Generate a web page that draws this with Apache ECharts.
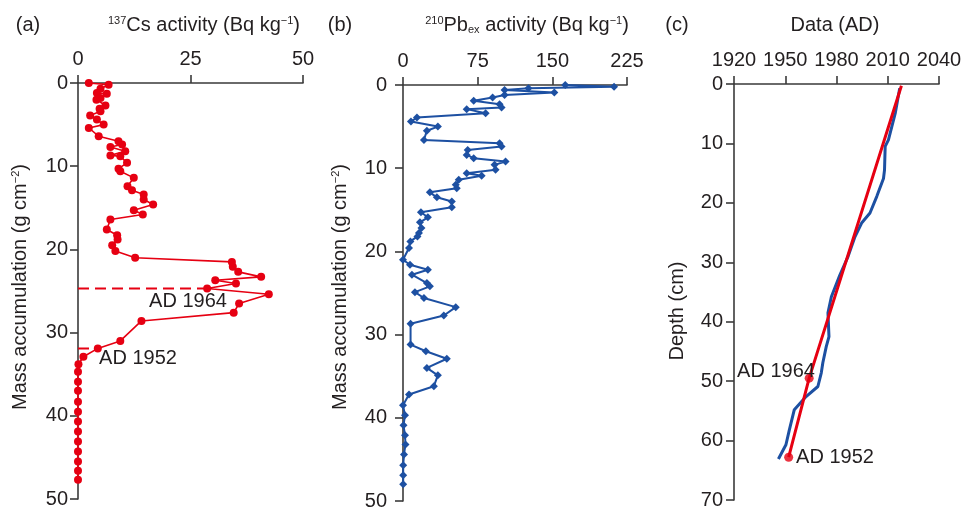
<!DOCTYPE html>
<html>
<head>
<meta charset="utf-8">
<script src="https://cdn.jsdelivr.net/npm/echarts@6/dist/echarts.min.js"></script>
<style>
html, body { margin: 0; padding: 0; background: #fff; }
#main { width: 961px; height: 508px; }
</style>
</head>
<body>
<div id="main"></div>
<script>
// (a) 137Cs profile: mass accumulation (g cm-2) vs activity (Bq kg-1)
const csMass = [0, 0.2, 0.7, 1.2, 1.3, 1.8, 2.0, 2.7, 3.1, 3.4, 3.9, 4.4, 5.0, 5.4, 6.4, 7.0, 7.4, 7.7,
  8.2, 8.7, 8.8, 9.6, 10.3, 10.6, 11.4, 12.4, 12.9, 13.4, 14.0, 14.6, 15.3, 15.8, 16.4, 17.6, 18.3,
  18.8, 19.5, 20.2, 21.0, 21.5, 22.1, 22.7, 23.3, 23.7, 24.1, 24.7, 25.4, 26.5, 27.6, 28.6, 31.0,
  31.9, 32.9, 33.8, 34.7, 35.9, 37.0, 38.3, 39.5, 40.7, 41.9, 43.1, 44.3, 45.5, 46.6, 47.7];
const csActivity = [2.4, 6.8, 5.0, 4.2, 6.4, 5.0, 4.1, 6.1, 4.8, 5.0, 2.7, 4.2, 5.7, 2.4, 4.6, 9.0, 9.8, 7.2,
  10.5, 7.2, 9.4, 10.9, 9.0, 9.4, 12.4, 11.0, 12.0, 14.6, 14.6, 16.7, 12.4, 14.4, 7.2, 6.4, 8.7,
  8.8, 7.6, 8.3, 12.7, 34.2, 34.4, 35.6, 40.7, 30.5, 35.1, 28.7, 42.4, 35.8, 34.6, 14.1, 9.4,
  4.4, 1.2, 0.1, 0, 0, 0, 0, 0, 0, 0, 0, 0, 0, 0, 0];

// dated horizons in (a)
const horizonNames = ['AD 1964', 'AD 1952'];
const horizonMass = [24.7, 31.9];
const horizonCs = [28.7, 4.4];

// (b) 210Pbex profile
const pbMass = [0.0, 0.2, 0.4, 0.6, 0.9, 1.2, 1.5, 1.9, 2.3, 2.7, 2.9, 3.4, 3.9, 4.4, 5.0, 5.5, 6.6, 7.0,
  7.4, 7.8, 8.4, 8.8, 9.2, 9.6, 10.2, 10.6, 10.9, 11.4, 12.0, 12.4, 12.9, 13.5, 14.0, 14.7, 15.3,
  15.9, 16.5, 17.2, 17.8, 18.2, 18.8, 19.6, 21.0, 21.6, 22.2, 22.8, 23.8, 24.2, 24.9, 25.6, 26.7,
  27.7, 28.7, 31.2, 32.0, 32.9, 34.0, 34.9, 36.2, 37.2, 38.5, 39.7, 40.9, 42.1, 43.2, 44.4, 45.7,
  46.9, 48.0];
const pbActivity = [163, 212, 126, 102, 152, 102, 90, 71, 97, 99, 64, 83, 14, 8, 35, 24, 21, 97,
  99, 65, 64, 71, 103, 92, 93, 64, 79, 56, 53, 54, 27, 34, 49, 49, 18,
  25, 17, 18.5, 16, 14.5, 7.4, 6, 0, 7, 25, 9, 24, 27, 12, 21, 53,
  41, 7.6, 7.6, 23, 44, 24, 35, 31, 6, 0, 2, 0.5, 2, 2.5, 1, 0.2,
  0.2, 0.2];

// (c) age-depth: 210Pb model (blue) and 137Cs line (red)
const modelYear = [2017, 2014.4, 2010.4, 2008.5, 2008.1, 2007.5, 2003.6, 1999.6, 1994.7, 1990.8, 1986.8,
  1981.9, 1977.0, 1975.0, 1975.6, 1974.0, 1972.0, 1971.1, 1969.1, 1962.2, 1955.3, 1952.4, 1950.4, 1946.0];
const modelDepth = [0.7, 4.9, 9.4, 10.5, 14.5, 15.9, 18.9, 21.7, 23.4, 25.7, 29.0,
  32.2, 35.8, 38.5, 42.5, 44.2, 46.9, 48.6, 50.9, 52.6, 54.8, 58.2, 60.7, 63.1];
const csYear = [2018, 1964, 1952];
const csDepth = [0.3, 49.5, 62.8];

const FONT = '"Liberation Sans", Arial, sans-serif';
const AXIS = '#3a3a3a';
const TXT = '#231f20';
const RED = '#e60012';
const BLUE = '#1d50a2';

function pairs(xs, ys) {
  return xs.map(function (x, i) { return [x, ys[i]]; });
}

function plain(v) { return String(v); }

function xAx(grid, min, max, interval) {
  return {
    gridIndex: grid, type: 'value', position: 'top', min: min, max: max, interval: interval,
    axisLine: { show: true, onZero: false, lineStyle: { color: AXIS, width: 1.6 } },
    axisTick: { show: true, length: 8, lineStyle: { color: AXIS, width: 1.6 } },
    axisLabel: { fontSize: 20, color: TXT, fontFamily: FONT, margin: 14, formatter: plain },
    splitLine: { show: false }
  };
}

function yAx(grid, max, interval, margin) {
  return {
    gridIndex: grid, type: 'value', inverse: true, min: 0, max: max, interval: interval,
    axisLine: { show: true, onZero: false, lineStyle: { color: AXIS, width: 1.6 } },
    axisTick: { show: true, length: 8, lineStyle: { color: AXIS, width: 1.6 } },
    axisLabel: { fontSize: 20, color: TXT, fontFamily: FONT, margin: margin, formatter: plain },
    splitLine: { show: false }
  };
}

const rich = {
  n: { fontSize: 20, fontFamily: FONT, color: TXT },
  sup: { fontSize: 11, fontFamily: FONT, color: TXT, verticalAlign: 'top', lineHeight: 11 },
  sub: { fontSize: 11, fontFamily: FONT, color: TXT, verticalAlign: 'bottom', lineHeight: 11 }
};

function label(text, x, y, rot) {
  return {
    type: 'text', x: x, y: y, rotation: rot || 0, z: 100,
    style: { text: text, rich: rich, font: '20px ' + FONT, fill: TXT, align: 'center', verticalAlign: 'middle' }
  };
}

const chart = echarts.init(document.getElementById('main'));

const series = [
  {
    type: 'line', xAxisIndex: 0, yAxisIndex: 0, data: pairs(csActivity, csMass),
    symbol: 'circle', symbolSize: 8, color: RED, lineStyle: { width: 1.6, color: RED },
    itemStyle: { color: RED }
  },
  {
    type: 'line', xAxisIndex: 1, yAxisIndex: 1, data: pairs(pbActivity, pbMass),
    symbol: 'diamond', symbolSize: 8, color: BLUE, lineStyle: { width: 2, color: BLUE },
    itemStyle: { color: BLUE }
  },
  {
    type: 'line', xAxisIndex: 2, yAxisIndex: 2, data: pairs(modelYear, modelDepth),
    showSymbol: false, color: BLUE, lineStyle: { width: 3, color: BLUE }
  },
  {
    type: 'line', xAxisIndex: 2, yAxisIndex: 2, data: pairs(csYear, csDepth),
    showSymbol: false, color: RED, lineStyle: { width: 3, color: RED }, z: 3
  },
  {
    type: 'scatter', xAxisIndex: 2, yAxisIndex: 2, data: pairs(csYear.slice(1), csDepth.slice(1)),
    symbol: 'circle', symbolSize: 9, itemStyle: { color: RED }, z: 4
  }
];

horizonMass.forEach(function (m, i) {
  series.push({
    type: 'line', xAxisIndex: 0, yAxisIndex: 0, data: [[0, m], [horizonCs[i], m]],
    showSymbol: false, color: RED, lineStyle: { width: 2, color: RED, type: [11, 6] }
  });
});

chart.setOption({
  animation: false,
  backgroundColor: '#fff',
  grid: [
    { left: 78, top: 83, width: 225, height: 416, outerBoundsMode: 'none' },
    { left: 403, top: 85, width: 224, height: 416, outerBoundsMode: 'none' },
    { left: 734, top: 84, width: 205, height: 416, outerBoundsMode: 'none' }
  ],
  xAxis: [xAx(0, 0, 50, 25), xAx(1, 0, 225, 75), xAx(2, 1920, 2040, 30)],
  yAxis: [yAx(0, 50, 10, 10), yAx(1, 50, 10, 16), yAx(2, 70, 10, 11)],
  series: series,
  graphic: [
    label('(a)', 28, 25),
    label('{sup|137}{n|Cs activity (Bq kg}{sup|−1}{n|)}', 204, 25),
    label('{n|Mass accumulation (g cm}{sup|−2}{n|)}', 20, 287, Math.PI / 2),
    label(horizonNames[0], 188, 301),
    label(horizonNames[1], 138, 358),
    label('(b)', 340, 25),
    label('{sup|210}{n|Pb}{sub|ex}{n| activity (Bq kg}{sup|−1}{n|)}', 527, 25),
    label('{n|Mass accumulation (g cm}{sup|−2}{n|)}', 340, 287, Math.PI / 2),
    label('(c)', 677, 25),
    label('Data (AD)', 835, 25),
    label('Depth (cm)', 677, 311, Math.PI / 2),
    label(horizonNames[0], 776, 371),
    label(horizonNames[1], 835, 457)
  ]
});
</script>
</body>
</html>
